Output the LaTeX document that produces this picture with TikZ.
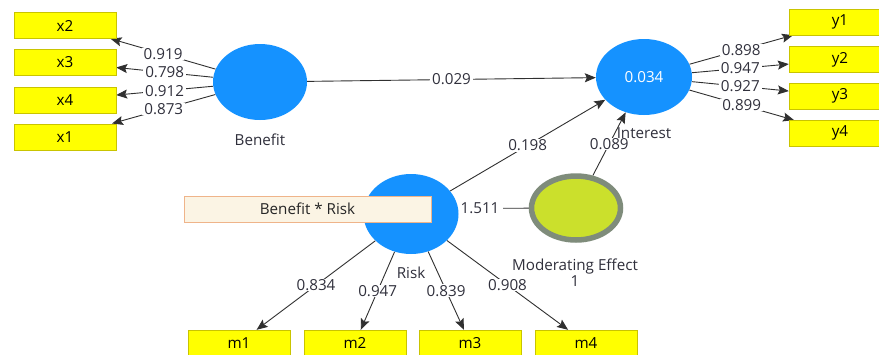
\documentclass[tikz,border=0pt]{standalone}
\usepackage{fontspec}
\setmainfont{Open Sans}
\usetikzlibrary{shapes.geometric,arrows.meta,backgrounds}
\definecolor{latent}{HTML}{1592FF}
\definecolor{indfill}{HTML}{FFFF00}
\definecolor{boxedge}{HTML}{C9C400}
\definecolor{modfill}{HTML}{CBE02C}
\definecolor{modedge}{HTML}{7F8C7B}
\definecolor{brfill}{HTML}{FBF4E4}
\definecolor{bredge}{HTML}{EFB48A}
\definecolor{linecol}{HTML}{303030}
\definecolor{labcol}{HTML}{30303C}
\newcommand\lblfont{\fontsize{15.2}{17}\selectfont}
\begin{document}
\begin{tikzpicture}[x=1pt,y=-1pt,
  ind/.style={draw=boxedge, fill=indfill, minimum width=102pt, minimum height=26pt,
              inner sep=0pt, font=\lblfont, text=black},
  lv/.style={ellipse, fill=latent, inner sep=0pt},
  pth/.style={draw=linecol, line width=0.9pt, -{Stealth[length=11pt,width=9pt,inset=2pt]}},
  plain/.style={draw=linecol, line width=0.9pt},
  coef/.style={fill=white, inner xsep=2pt, inner ysep=0.6pt, text=labcol, font=\lblfont},
  lvcaption/.style={text=labcol, font=\lblfont, inner sep=0pt}]
\clip (0,0) rectangle (879,354);

% indicators of Benefit
\node[ind] (x2) at (65,25.5) {x2};
\node[ind] (x3) at (65,62.3) {x3};
\node[ind] (x4) at (65,99.7) {x4};
\node[ind] (x1) at (65,136.7) {x1};

% indicators of Interest
\node[ind] (y1) at (840,22) {y1};
\node[ind] (y2) at (840,59.5) {y2};
\node[ind] (y3) at (840,96) {y3};
\node[ind] (y4) at (840,133.3) {y4};

% indicators of Risk
\node[ind] (m1) at (239,343) {m1};
\node[ind] (m2) at (355,343) {m2};
\node[ind] (m3) at (470,343) {m3};
\node[ind] (m4) at (586,343) {m4};

% latent variables
\node[lv, minimum width=94pt, minimum height=76pt] (ben) at (260,82) {};
\node[lv, minimum width=96pt, minimum height=76pt, text=white, font=\lblfont] (int) at (644,77) {0.034};
\node[lv, minimum width=95pt, minimum height=80pt] (risk) at (411,214) {};
\node[ellipse, draw=modedge, line width=5.5pt, fill=modfill, minimum width=89pt,
      minimum height=64pt, inner sep=0pt] (mod) at (576,208) {};
\node[draw=bredge, fill=brfill, minimum width=247pt, minimum height=26pt, inner sep=0pt,
      font=\lblfont, text=black!85] (br) at (307.5,209) {Benefit * Risk};

% captions
\node[lvcaption] (benc) at (260,140) {Benefit};
\node[lvcaption] (intc) at (644,133) {Interest};
\node[lvcaption] (riskc) at (411,273) {Risk};
\node[lvcaption, align=center] (modc) at (575,273) {Moderating Effect\\[-1pt]1};

\begin{scope}[on background layer]
  \fill[white] (0,0) rectangle (879,354);
  % outer loadings, Benefit
  \draw[pth] (ben) -- (x2) node[coef,pos=0.5] {0.919};
  \draw[pth] (ben) -- (x3) node[coef,pos=0.5] {0.798};
  \draw[pth] (ben) -- (x4) node[coef,pos=0.5] {0.912};
  \draw[pth] (ben) -- (x1) node[coef,pos=0.5] {0.873};
  % outer loadings, Interest
  \draw[pth] (int) -- (y1) node[coef,pos=0.5] {0.898};
  \draw[pth] (int) -- (y2) node[coef,pos=0.5] {0.947};
  \draw[pth] (int) -- (y3) node[coef,pos=0.5] {0.927};
  \draw[pth] (int) -- (y4) node[coef,pos=0.5] {0.899};
  % outer loadings, Risk
  \draw[pth] (risk) -- (m1) node[coef,pos=0.5] {0.834};
  \draw[pth] (risk) -- (m2) node[coef,pos=0.5] {0.947};
  \draw[pth] (risk) -- (m3) node[coef,pos=0.5] {0.839};
  \draw[pth] (risk) -- (m4) node[coef,pos=0.5] {0.908};
  % structural paths
  \draw[pth] (ben) -- (int) node[coef,pos=0.5] {0.029};
  \draw[pth] (risk) -- (int) node[coef,pos=0.5] {0.198};
  \draw[pth] (mod) -- (int) node[coef,pos=0.5] {0.089};
  % interaction term indicator
  \draw[plain] (mod) -- (br) node[coef,pos=0.5,inner xsep=4pt] {1.511};
\end{scope}
\end{tikzpicture}
\end{document}
